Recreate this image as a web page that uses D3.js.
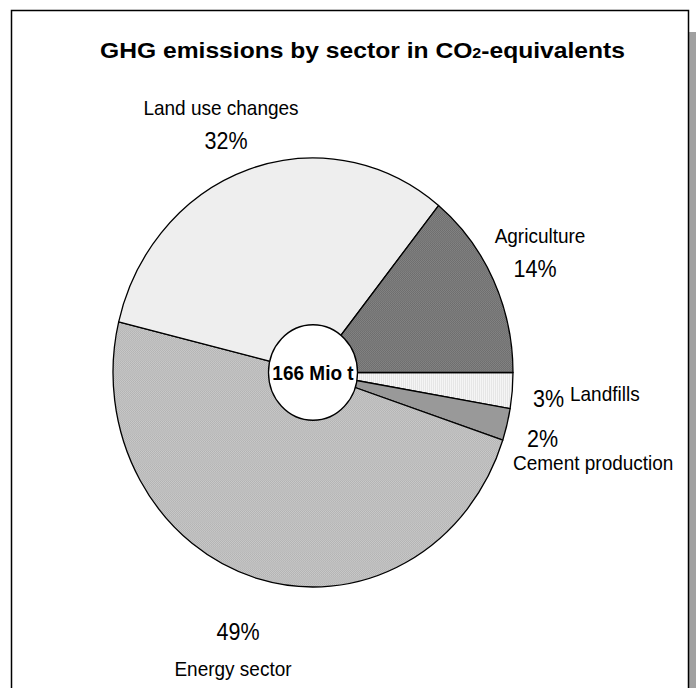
<!DOCTYPE html>
<html><head><meta charset="utf-8">
<script src="https://cdn.jsdelivr.net/npm/d3@7/dist/d3.min.js"></script>
<style>
html,body{margin:0;padding:0;background:#fff;}
svg{display:block;font-family:"Liberation Sans",Arial,sans-serif;}
</style></head>
<body>
<script>
// ---- data (clockwise from 3 o'clock) ----
const sectors = ["Landfills", "Cement production", "Energy sector", "Land use changes", "Agriculture"];
const shares  = [2.7, 2.4, 48.7, 32.0, 14.2];   // percent of total
const totalLabel = "166 Mio t";
const titleMain = "GHG emissions by sector in CO";
const titleSub = "2";
const titleEnd = "-equivalents";

// ---- layout ----
const W = 696, H = 688;
const cx = 313, cy = 372.5, rx = 200, ry = 214.5, holeR = 44.5;
const vStretch = ry / rx;
const fills = ["url(#pLandfill)", "#999999", "url(#pEnergy)", "#eeeeee", "url(#pAgri)"];

const svg = d3.select("body").append("svg").attr("width", W).attr("height", H);
const defs = svg.append("defs");
function checker(id, base, dot) {
  const p = defs.append("pattern").attr("id", id).attr("width", 2).attr("height", 2)
    .attr("patternUnits", "userSpaceOnUse");
  p.append("rect").attr("width", 2).attr("height", 2).attr("fill", base);
  p.append("rect").attr("width", 1).attr("height", 1).attr("fill", dot);
  p.append("rect").attr("x", 1).attr("y", 1).attr("width", 1).attr("height", 1).attr("fill", dot);
}
checker("pAgri", "#858585", "#6c6c6c");
checker("pEnergy", "#cacaca", "#b2b2b2");
(function(){
  const p = defs.append("pattern").attr("id", "pLandfill").attr("width", 2).attr("height", 2)
    .attr("patternUnits", "userSpaceOnUse");
  p.append("rect").attr("width", 2).attr("height", 2).attr("fill", "#f5f5f5");
  p.append("rect").attr("width", 1).attr("height", 2).attr("fill", "#e6e6e6");
})();

// shadow + frame
svg.append("rect").attr("x", 689).attr("y", 32).attr("width", 7).attr("height", H - 32).attr("fill", "#a0a0a0");
svg.append("path").attr("d", `M11.5,${H+2} V10.5 H688.5 V${H+2}`).attr("fill", "none")
  .attr("stroke", "#000").attr("stroke-width", 1.5);

// helper: text with slight vertical stretch like the reference
function stretchedText(parent, x, y, anchor, size, str, bold) {
  return parent.append("text")
    .attr("transform", `translate(${x},${y}) scale(1,${vStretch})`)
    .attr("text-anchor", anchor).attr("font-size", size)
    .attr("font-weight", bold ? "bold" : null).attr("fill", "#000").text(str);
}

// title
const t = svg.append("text").attr("x", 100).attr("y", 58)
  .attr("font-weight", "bold").attr("font-size", 21.5).attr("fill", "#000")
  .attr("textLength", 525).attr("lengthAdjust", "spacingAndGlyphs");
t.append("tspan").text(titleMain);
t.append("tspan").attr("font-size", 14).text(titleSub);
t.append("tspan").text(titleEnd);

// pie
const pie = d3.pie().sort(null).value(d => d).startAngle(Math.PI / 2).endAngle(Math.PI / 2 + 2 * Math.PI);
const arcs = pie(shares);
const arc = d3.arc().innerRadius(0).outerRadius(rx);
const g = svg.append("g").attr("transform", `translate(${cx},${cy}) scale(1,${vStretch})`);
g.selectAll("path.slice").data(arcs).join("path").attr("class", "slice")
  .attr("d", arc).attr("fill", (d, i) => fills[i])
  .attr("stroke", "#000").attr("stroke-width", 1.3).attr("vector-effect", "non-scaling-stroke")
  .attr("stroke-linejoin", "round");
g.append("circle").attr("r", holeR).attr("fill", "#fff").attr("stroke", "#000")
  .attr("stroke-width", 1.3).attr("vector-effect", "non-scaling-stroke");
stretchedText(svg, cx, cy + 7, "middle", 19, totalLabel, true);

// labels: [name x, name baseline, name anchor, pct x, pct baseline, pct anchor]
const labelPos = [
  [570, 401, "start", 533, 407, "start"],
  [513, 470, "start", 527, 447, "start"],
  [233, 676, "middle", 238, 640, "middle"],
  [221, 115, "middle", 226, 149, "middle"],
  [540, 243, "middle", 535, 277, "middle"]
];
const lab = svg.append("g");
sectors.forEach((s, i) => {
  const p = labelPos[i];
  stretchedText(lab, p[0], p[1], p[2], 19, s, false);
  stretchedText(lab, p[3], p[4], p[5], 21.5, Math.round(shares[i]) + "%", false);
});
</script>
</body></html>
